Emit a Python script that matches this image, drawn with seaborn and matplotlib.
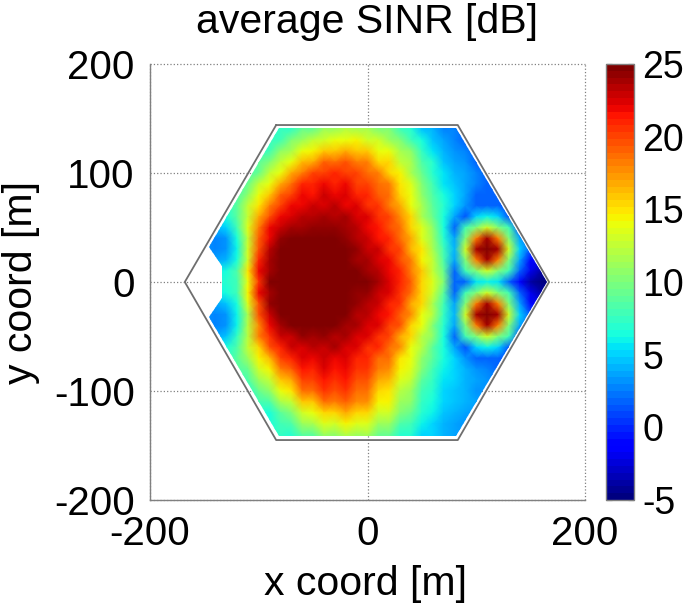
import numpy as np
import pandas as pd
import matplotlib
matplotlib.use("Agg")
import matplotlib.pyplot as plt
from matplotlib.patches import Polygon
import seaborn as sns

n = np.nan

# x positions of the columns and y positions of the rows, in metres
x_coords = list(range(-170, 171, 10))
y_coords = list(range(150, -151, -10))

# average SINR in dB, one row per y
sinr_rows = [
    [n,n,n,n,n,n,n,7,7,7,7.5,8,9,10,10.5,11,11,10.5,10,9,8,7,5,3.5,2.5,2,2,2,n,n,n,n,n,n,n],
    [n,n,n,n,n,n,n,6.5,6.5,7.5,7.5,9.5,9.5,11,11,12,11.5,11.5,10,10,8,7,4.5,4,2.5,2.5,2,2,n,n,n,n,n,n,n],
    [n,n,n,n,n,n,6.5,6.5,7.5,8,10,11,12.5,13,14,14,14.5,13,13,11,10,8,6.5,4.5,3.5,2.5,2,2,2,n,n,n,n,n,n],
    [n,n,n,n,n,n,6,7.5,8,10.5,11.5,14,14.5,16,16,17,16,16,14,14,11.5,10.5,7.5,5.5,4,3,2.5,2,1.5,n,n,n,n,n,n],
    [n,n,n,n,n,6,7,9,10,12.5,14,16.5,17,19,18.5,19.5,18,18,15.5,15.5,12.5,11.5,8.5,7,4.5,3.5,3,2,1.5,1.5,n,n,n,n,n],
    [n,n,n,n,6,6.5,8.5,9.5,12.5,14,17,18,20,20,21,20,20,18.5,18,15.5,14.5,11.5,9.5,7,5.5,4,3.5,2.5,2,1.5,1.5,n,n,n,n],
    [n,n,n,n,6.5,7.5,9.5,12.5,14,17,18.5,21,21,22,21,22,20,20,18.5,18,15,13.5,10,8,5.5,4.5,3.5,2.5,2,2,1.5,n,n,n,n],
    [n,n,n,6.5,7,8.5,10.5,14,16,19,20,22,21.5,23,22,22.5,21,21,19,18.5,15.5,14,10.5,8.5,6.5,5,3.5,2,2,2,1.5,1.5,n,n,n],
    [n,n,6.5,7,7.5,9,12.5,15,18,20,22,22,23,22.5,23.5,22,22.5,20.5,20.5,18,17,14,11.5,9,7,5,3,2,2,2,1.5,1.5,1,n,n],
    [n,n,6,6,6.5,9,12.5,17,19.5,22,22.5,23.5,23.5,24,23.5,24,22.5,22.5,20.5,20,17.5,15.5,11.5,9.5,6.5,3.5,1.5,5,6,5,1.5,1.5,1.5,n,n],
    [n,5,5,4,5,8,13.5,18,22,23,24,24,24.5,24.5,24.5,24,23.5,22,21.5,19.5,18.5,15.5,13.5,10.5,6.5,2,8,10,13,10,8,1.5,1.5,1.5,n],
    [n,3,3,2.5,3,6.5,12.5,19,22,24.5,25,25,25,25,25,24.5,23.5,23,21.5,21,18.5,17,13.5,11,7,3.5,10,18,24,18,10,3.5,2,1.5,n],
    [3,3,3,2.5,3,6,13,19.5,23.5,25,25,25,25,25,25,25,24.5,23,23,20.5,20,16.5,15,11.5,8,4,13,24,25,24,13,5,1.5,1,n],
    [4,4,4,3.5,4,6.5,13,21,24,25,25,25,25,25,25,25,24,24,22.5,22,19.5,18,14.5,12.5,8.5,3.5,10,18,24,18,10,3.5,-1,-1,-2],
    [6,6,6,6,6.5,8.5,15,22,24,25,25,25,25,25,25,25,25,24,23.5,22,21,18,16,12.5,9.5,2,8,10,13,10,8,2,-2,-4,-4],
    [7,7,7,7,7,8,14,20.5,25,25,25,25,25,25,25,25,25,25,24,22.5,21,19,15.5,13.5,10,2,2,5.5,6,5.5,2,-1,-4,-5,-5],
    [6,6,6,6,6.5,8,14.5,22,24,25,25,25,25,25,25,25,24.5,24.5,23,22.5,20.5,18.5,15.5,13,9,2,8,10,13,10,8,2,-2,-4,-4],
    [4,4,4,3.5,4.5,6.5,13.5,19.5,24.5,25,25,25,25,25,25,25,24.5,23.5,23,21,20.5,17,15.5,11.5,8,3.5,10,18,24,18,10,3.5,-1,-1,-2],
    [3,3,3,2.5,3,6,11.5,19.5,23,25,25,25,25,25,25,25,23.5,23.5,22,21.5,19,17.5,14,12,7.5,4,13,24,25,24,13,5,1.5,1,n],
    [n,3,3,2.5,3,6,12,17.5,22,24,25,25,25,25,25,24,24,22.5,22.5,20,19.5,15.5,14,10,7,3.5,10,18,24,18,10,3.5,2,1.5,n],
    [n,5,4.5,3.5,4.5,7.5,12,18,20.5,23,23,24.5,24,24.5,23.5,24,22.5,22.5,20.5,20,17,15.5,12,10.5,6.5,2,8,10,13,10,8,1.5,1.5,1.5,n],
    [n,n,6,6,6.5,8.5,12.5,15.5,19.5,21,23,22.5,23.5,23,24,22.5,22.5,20.5,21,18.5,17.5,14,12,9,6.5,3.5,1.5,5,6,5,1.5,1.5,1.5,n,n],
    [n,n,6.5,7,7.5,9,11,14.5,16.5,20,21,22.5,22,23,22,22.5,21,21,18.5,18.5,15,14,10.5,9,6.5,5,3,2,2,2,1.5,1.5,1,n,n],
    [n,n,n,6.5,7,8.5,9.5,13,14.5,18,19,21.5,21,22.5,21.5,22,20.5,20.5,18,17.5,14.5,13.5,10,8,6,5,4,3,2.5,2,1.5,n,n,n,n],
    [n,n,n,n,6.5,7.5,8.5,11,12.5,16,17,20,20,21.5,20.5,21.5,19.5,19.5,17,16.5,13.5,12.5,9,7.5,5.5,5,4,3.5,3,2.5,2,n,n,n,n],
    [n,n,n,n,6,7,7,9.5,10.5,14,15,18.5,18.5,20.5,19.5,20.5,18.5,18.5,15.5,15,12,11,8,7,5,4.5,4,3,3,2.5,2,n,n,n,n],
    [n,n,n,n,n,6.5,6,8,8.5,11.5,12.5,16,16,18.5,18,19,17.5,17.5,14.5,14.5,11,10.5,7.5,6.5,5,4.5,4,3.5,3,2.5,n,n,n,n,n],
    [n,n,n,n,n,n,6,7,6.5,9,10,13,14,15.5,15.5,17,15.5,15.5,13,13,10,9.5,7,6,4.5,4,3.5,3,2.5,n,n,n,n,n,n],
    [n,n,n,n,n,n,6,7,6.5,8,8.5,11,11.5,13.5,13,14.5,13.5,13.5,11,11,8.5,8,6,5,4,3.5,3,2.5,2.5,n,n,n,n,n,n],
    [n,n,n,n,n,n,n,6.5,7,7.5,7,9,9,11,10.5,12,11,11.5,9.5,9.5,7,7,5,5,4,3.5,3,2.5,n,n,n,n,n,n,n],
    [n,n,n,n,n,n,n,7,7,7,7.5,8,9,10,10.5,11,11,10.5,10,9,8,7,5.5,5,4,3.5,3,2.5,n,n,n,n,n,n,n],
]

# cell outline and the area that actually has samples (notch on the left)
hex_x = [-84, 83, 167, 83, -84, -168, -84]
hex_y = [144, 144, 0, -145, -145, 0, 144]
area_x = [-81, 81, 165, 81, -81, -146, -134, -134, -146]
area_y = [141.5, 141.5, 0, -141.5, -141.5, -32, -15, 15, 32]

x_ticks = [-200, 0, 200]
y_ticks = [200, 100, 0, -100, -200]
cbar_ticks = [-5, 0, 5, 10, 15, 20, 25]


def col_pos(x):
    return (np.asarray(x) + 200) / 10


def row_pos(y):
    return (200 - np.asarray(y)) / 10


sns.set_theme(style="white")
plt.rcParams["font.family"] = ["Liberation Sans", "DejaVu Sans"]
plt.rcParams["text.color"] = "black"
plt.rcParams["axes.labelcolor"] = "black"
plt.rcParams["xtick.color"] = "black"
plt.rcParams["ytick.color"] = "black"

# fill out to the whole -200..200 square so row/column number maps to metres
df = pd.DataFrame(sinr_rows, index=y_coords, columns=x_coords)
df = df.reindex(index=range(200, -201, -10), columns=range(-200, 201, 10))

fig = plt.figure(figsize=(6.85, 6.07), dpi=100)
ax = fig.add_axes([150 / 685, 107 / 607, 435 / 685, 436 / 607])
cax = fig.add_axes([606 / 685, 107 / 607, 28 / 685, 436 / 607])

sns.heatmap(df, ax=ax, cbar_ax=cax, cmap=plt.colormaps["jet"].resampled(64),
            vmin=-5, vmax=25, shading="gouraud",
            xticklabels=False, yticklabels=False)

# keep the field inside the sampled area
mesh = ax.collections[0]
area = Polygon(np.column_stack([col_pos(area_x), row_pos(area_y)]), closed=True,
               transform=ax.transData, fill=False, edgecolor="none")
ax.add_patch(area)
mesh.set_clip_path(area)

ax.plot(col_pos(hex_x), row_pos(hex_y), color="#6e6e6e", lw=1.3, zorder=4)

ax.set_xlim(0, 40)
ax.set_ylim(40, 0)
ax.set_xticks(col_pos(x_ticks))
ax.set_xticklabels([str(t) for t in x_ticks], rotation=0)
ax.set_yticks(row_pos(y_ticks))
ax.set_yticklabels([str(t) for t in y_ticks], rotation=0)
ax.tick_params(axis="both", labelsize=29, length=0, pad=11)

ax.set_axisbelow(True)
ax.grid(True, linestyle=":", color="#808080", lw=0.9)
for gl in ax.get_xgridlines() + ax.get_ygridlines():
    gl.set_clip_on(False)
for side in ["left", "bottom"]:
    ax.spines[side].set_visible(True)
    ax.spines[side].set_color("#808080")
    ax.spines[side].set_linewidth(1.0)

ax.set_title("average SINR [dB]", fontsize=29.5, pad=22)
ax.set_xlabel("x coord [m]", fontsize=29.5)
ax.set_ylabel("y coord [m]", fontsize=29.5)
ax.xaxis.set_label_coords(0.495, -0.15, transform=ax.transAxes)
ax.yaxis.set_label_coords(-0.253, 0.5, transform=ax.transAxes)

cbar = mesh.colorbar
cbar.set_ticks(cbar_ticks)
cbar.set_ticklabels([str(t) for t in cbar_ticks])
cbar.outline.set_visible(True)
cbar.outline.set_linewidth(1.0)
cbar.outline.set_edgecolor("#808080")
cax.tick_params(axis="y", which="both", direction="in", left=True, right=True,
                length=4, width=0.8, color="black", labelsize=27, pad=6)

fig.savefig("out.png", dpi=100)
plt.close(fig)
